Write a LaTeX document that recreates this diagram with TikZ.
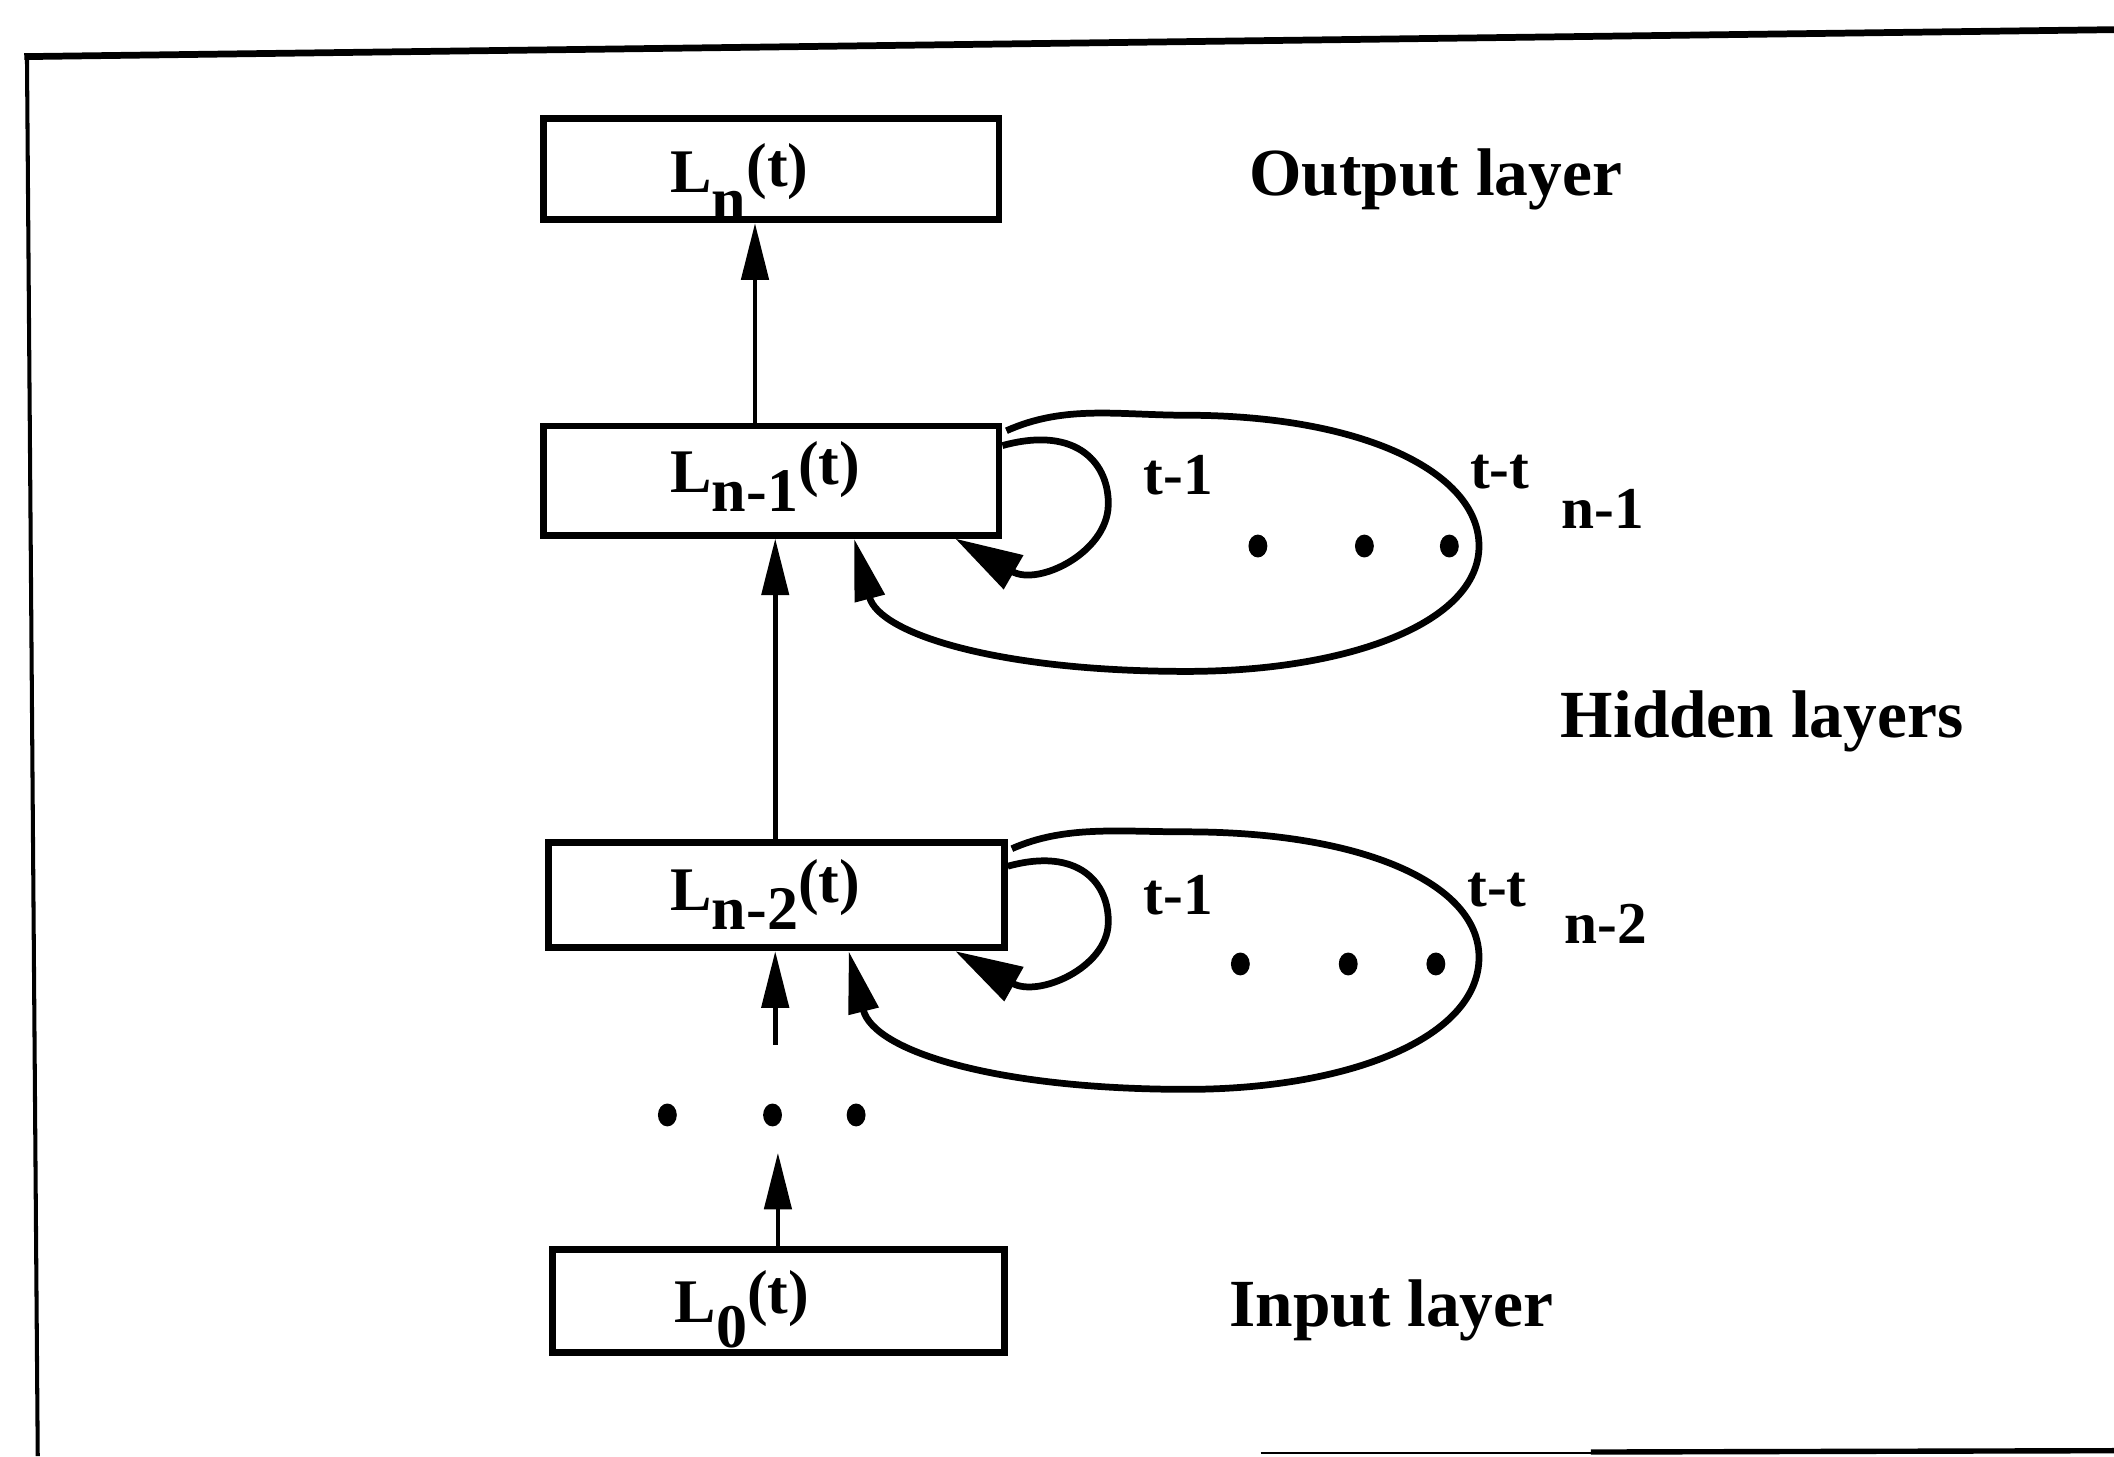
\documentclass[tikz,border=0pt]{standalone}
\usepackage{fontspec}
\setmainfont{Liberation Serif}
\usetikzlibrary{arrows.meta,calc,shapes.geometric}
\newcommand{\Lsub}[1]{L\raisebox{-0.32em}{#1}\raisebox{0.12em}{(t)}}
\begin{document}
\begin{tikzpicture}[x=0.5pt,y=-0.5pt,
  layerbox/.style={draw,line width=2.5pt,inner sep=0pt,minimum width=169pt},
  lbl/.style={font=\fontsize{23}{26}\selectfont\bfseries,inner sep=0pt,anchor=base west},
  captext/.style={font=\fontsize{25}{30}\selectfont\bfseries,inner sep=0pt},
  small/.style={font=\fontsize{22}{26}\selectfont\bfseries,inner sep=0pt,anchor=base west},
  uparr/.style={line width=1.75pt,-{Triangle[length=21pt,width=10pt]}},
  looparr/.style={line width=2.5pt,-{Triangle[length=23pt,width=11pt]}},
  selfarr/.style={line width=2.5pt,-{Triangle[length=25pt,width=14pt]}},
  dotmark/.style={ellipse,fill,inner sep=0pt,minimum width=7pt,minimum height=8.5pt}]
\useasboundingbox (0,0) rectangle (1568,1080);
% frame
\draw[line width=2.5pt] (18,42) -- (1568,22);
\draw[line width=1.5pt] (20,42) -- (28,1080);
\draw[line width=0.75pt] (935,1078) -- (1180,1078);
\draw[line width=2pt] (1180,1077) -- (1568,1076);
% boxes
\node[layerbox,minimum height=37.5pt] (bout) at (572,125.5) {};
\node[layerbox,minimum height=40.5pt] (b1) at (572,356.5) {};
\node[layerbox,minimum height=39pt] (b2) at (576,664) {};
\node[layerbox,minimum width=167.5pt,minimum height=38pt] (b0) at (577.5,965) {};
% box labels
\node[lbl] (lout) at (497,143) {L\raisebox{-0.45em}{n}\raisebox{0.1em}{(t)}};
\node[lbl] (l1) at (497,365) {\Lsub{n-1}};
\node[lbl] (l2) at (497,675) {\Lsub{n-2}};
\node[lbl] (l0) at (500,981) {L\raisebox{-0.4em}{0}\raisebox{0.15em}{(t)}};
% captions
\node[captext] (cout) at (1065,133) {Output layer};
\node[captext] (chid) at (1307,535) {Hidden layers};
\node[captext] (cin) at (1032,972) {Input layer};
% vertical arrows
\draw[uparr] ([xshift=-6pt]b1.north) -- ([xshift=-6pt]bout.south);
\draw[uparr] (b2.north -| 575,0) -- (b1.south -| 575,0);
\coordinate (d2) at (575,775);
\draw[uparr] (d2) -- (b2.south -| d2);
\coordinate (d0) at (577,855);
\draw[uparr] (b0.north -| d0) -- (d0);
% dots between
\node[dotmark] (v1) at (495,827) {};
\node[dotmark] (v2) at (573,827) {};
\node[dotmark] (v3) at (635,827) {};
% loops n-1
\draw[selfarr] ($(b1.north east)+(0,17)$) .. controls (800,315) and (823,345) .. (822,375)
  .. controls (821,410) and (770,435) .. ($(b1.south east)+(-35,0)$);
\draw[looparr] ($(b1.north east)+(3,6)$) .. controls (790,300) and (830,308) .. (880,308)
  .. controls (1010,308) and (1097,350) .. (1097,405)
  .. controls (1097,462) and (1000,498) .. (880,498)
  .. controls (740,498) and (652,470) .. ($(b1.south west)+(233,0)$);
\node[dotmark] (p11) at (933,405) {};
\node[dotmark] (p12) at (1012,405) {};
\node[dotmark] (p13) at (1075,405) {};
\node[small] (t11) at (848,367) {t-1};
\node[small] (tt1) at (1090,362) {t-t};
\node[small] (n1) at (1158,392) {n-1};
% loops n-2
\draw[selfarr] ($(b2.north east)+(0,20)$) .. controls (800,628) and (823,655) .. (822,685)
  .. controls (821,718) and (770,740) .. ($(b2.south east)+(-39,0)$);
\draw[looparr] ($(b2.north east)+(3,7)$) .. controls (790,612) and (830,617) .. (880,617)
  .. controls (1010,617) and (1097,655) .. (1097,710)
  .. controls (1097,770) and (1000,808) .. (880,808)
  .. controls (740,808) and (648,780) .. ($(b2.south west)+(225,0)$);
\node[dotmark] (p21) at (920,715) {};
\node[dotmark] (p22) at (1000,715) {};
\node[dotmark] (p23) at (1065,715) {};
\node[small] (t12) at (848,678) {t-1};
\node[small] (tt2) at (1088,672) {t-t};
\node[small] (n2) at (1160,700) {n-2};
\end{tikzpicture}
\end{document}
